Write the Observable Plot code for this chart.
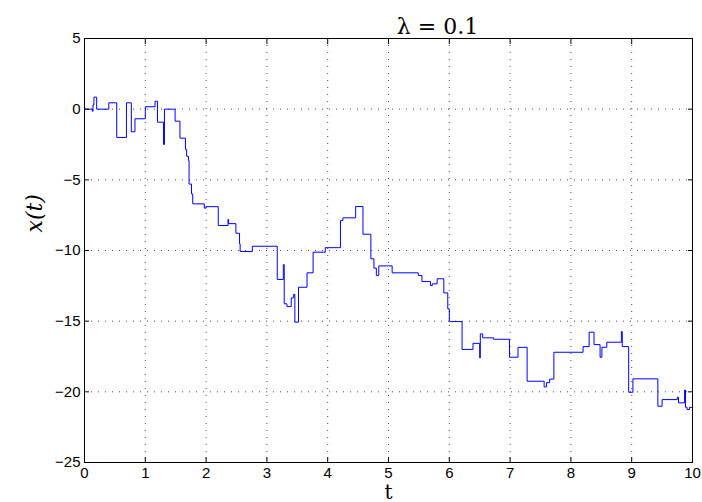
<!DOCTYPE html>
<html><head><meta charset="utf-8">
<script src="https://cdn.jsdelivr.net/npm/d3@7"></script>
<script src="https://cdn.jsdelivr.net/npm/@observablehq/plot@0.6"></script>
<style>body{margin:0;background:#fff}</style>
</head><body><div id="chart"></div>
<script>
const times = [0, 0.13, 0.14, 0.155, 0.2, 0.4, 0.53, 0.69, 0.77, 0.83, 1.0, 1.16, 1.2, 1.3, 1.315, 1.49, 1.57, 1.66, 1.68, 1.71, 1.72, 1.76, 1.78, 1.97, 2.0, 2.2, 2.36, 2.37, 2.49, 2.55, 2.56, 2.76, 3.17, 3.27, 3.285, 3.33, 3.4, 3.44, 3.46, 3.52, 3.66, 3.76, 3.96, 4.21, 4.25, 4.46, 4.58, 4.71, 4.76, 4.8, 4.84, 5.06, 5.49, 5.55, 5.69, 5.72, 5.8, 5.91, 5.975, 6.0, 6.21, 6.39, 6.5, 6.51, 6.55, 6.73, 6.99, 7.13, 7.28, 7.56, 7.6, 7.65, 7.72, 8.2, 8.3, 8.38, 8.48, 8.51, 8.59, 8.83, 8.845, 8.95, 9.02, 9.43, 9.5, 9.75, 9.77, 9.87, 9.885, 9.91, 9.95, 10];
const values = [0, -0.15, 0.3, 0.85, 0, 0.45, -2.0, 0.45, -1.6, -0.68, 0.17, 0.56, -0.92, -2.5, 0, -0.85, -2.05, -2.86, -3.33, -3.63, -5.3, -6.0, -6.7, -7.0, -6.9, -8.23, -7.8, -8.1, -8.78, -9.53, -10.07, -9.7, -12.05, -11.0, -13.77, -13.97, -13.35, -13.1, -15.07, -12.6, -11.58, -10.12, -9.8, -7.88, -7.69, -6.89, -8.85, -10.59, -11.25, -11.77, -11.09, -11.58, -11.77, -12.2, -12.48, -12.36, -12.0, -13.0, -14.13, -15.03, -17.0, -16.57, -17.6, -15.9, -16.18, -16.28, -17.55, -16.85, -19.25, -19.65, -19.35, -19.1, -17.2, -16.8, -15.78, -16.66, -17.55, -16.85, -16.49, -15.74, -16.8, -20.03, -19.08, -21.02, -20.55, -20.38, -20.78, -19.87, -21.09, -21.25, -21.1, -21.1];
const xTicks = [0, 1, 2, 3, 4, 5, 6, 7, 8, 9, 10];
const yTicks = [5, 0, -5, -10, -15, -20, -25];
const titleText = "λ = 0.1";
const xLabel = "t";
const yLabel = "x(t)";

const data = times.map((t, i) => ({t, x: values[i]}));
const serif = "'DejaVu Serif', 'Liberation Serif', serif";

const chart = Plot.plot({
  width: 702, height: 502,
  marginLeft: 84, marginRight: 10, marginTop: 38, marginBottom: 40,
  x: {domain: [0, 10]},
  y: {domain: [-25, 5]},
  style: {fontFamily: "'Liberation Sans', Arial, sans-serif", fontSize: "14px", background: "white", color: "#000"},
  marks: [
    Plot.gridX(xTicks, {stroke: "#000", strokeOpacity: 0.7, strokeDasharray: "1,6"}),
    Plot.gridY(yTicks, {stroke: "#000", strokeOpacity: 0.7, strokeDasharray: "1,6"}),
    Plot.line(data, {x: "t", y: "x", curve: "step-after", stroke: "#0000ff", strokeWidth: 1}),
    Plot.frame({stroke: "#000", strokeWidth: 1}),
    Plot.axisX(xTicks, {anchor: "bottom", tickSize: 0, tickPadding: 5, label: null, fontSize: 15}),
    Plot.axisY(yTicks, {anchor: "left", tickSize: 0, tickPadding: 4, label: null, fontSize: 15}),
    Plot.axisX(xTicks, {anchor: "bottom", tickSize: -5, tickFormat: () => "", label: null}),
    Plot.axisX(xTicks, {anchor: "top", tickSize: -5, tickFormat: () => "", label: null}),
    Plot.axisY(yTicks, {anchor: "left", tickSize: -5, tickFormat: () => "", label: null}),
    Plot.axisY(yTicks, {anchor: "right", tickSize: -5, tickFormat: () => "", label: null}),
    Plot.text([titleText], {frameAnchor: "top", dx: 49, dy: -20, fontFamily: serif, fontSize: 22}),
    Plot.text([xLabel], {frameAnchor: "bottom", dy: 36, lineAnchor: "bottom", fontFamily: serif, fontSize: 20}),
    Plot.text([yLabel], {frameAnchor: "left", dx: -50, dy: -18, rotate: -90, fontFamily: serif, fontStyle: "italic", fontSize: 22})
  ]
});
document.getElementById("chart").append(chart);
</script>
</body></html>
